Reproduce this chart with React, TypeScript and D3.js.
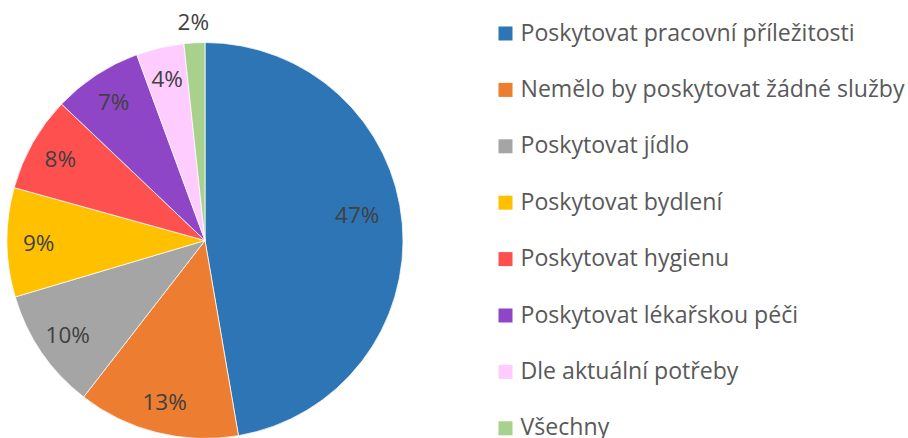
import React from "react";
import * as d3 from "d3";

const categories = [
  "Poskytovat pracovní příležitosti",
  "Nemělo by poskytovat žádné služby",
  "Poskytovat jídlo",
  "Poskytovat bydlení",
  "Poskytovat hygienu",
  "Poskytovat lékařskou péči",
  "Dle aktuální potřeby",
  "Všechny",
];
const values = [47.3, 13.2, 9.9, 8.9, 7.8, 7.3, 3.9, 1.7];
const colors = ["#2E75B6", "#ED7D31", "#A5A5A5", "#FFC000", "#FF5050", "#8E46C6", "#FFCCFF", "#A9D18E"];

const W = 908;
const H = 438;
const FONT = "'Open Sans', sans-serif";

export default function App() {
  const cx = 205;
  const cy = 240.5;
  const r = 198;
  const total = d3.sum(values);
  const pie = d3.pie<number>().sort(null).value((d) => d);
  const arcs = pie(values);
  const arc = d3.arc<d3.PieArcDatum<number>>().innerRadius(0).outerRadius(r);

  const legendY = d3.scaleBand<number>().domain(d3.range(categories.length)).range([12.5, 12.5 + 56.4 * 8]);

  return (
    <svg width={W} height={H} style={{ position: "absolute", left: 0, top: 0, background: "#fff" }}>
      <g transform={`translate(${cx},${cy})`}>
        {arcs.map((a, i) => (
          <path key={i} d={arc(a) || ""} fill={colors[i]} stroke="#fff" strokeWidth={0.75} />
        ))}
        {arcs.map((a, i) => {
          const pct = Math.round((a.value / total) * 100);
          let mid = (a.startAngle + a.endAngle) / 2;
          let lr = r * 0.84;
          if (pct >= 40) {
            lr = r * 0.78;
            mid -= 0.085;
          } else if (pct < 3) {
            lr = r + 21;
          }
          const x = Math.sin(mid) * lr;
          const y = -Math.cos(mid) * lr;
          return (
            <text
              key={i}
              x={x}
              y={y}
              textAnchor="middle"
              dominantBaseline="central"
              fontFamily={FONT}
              fontSize={22.5}
              fill="#404040"
            >
              {pct}%
            </text>
          );
        })}
      </g>
      <g>
        {categories.map((c, i) => {
          const base = (legendY(i) || 0) + 28;
          return (
            <g key={i}>
              <rect x={498.5} y={base - 14} width={14} height={14} fill={colors[i]} />
              <text x={520.5} y={base} fontFamily={FONT} fontSize={23.1} fill="#595959">
                {c}
              </text>
            </g>
          );
        })}
      </g>
    </svg>
  );
}
